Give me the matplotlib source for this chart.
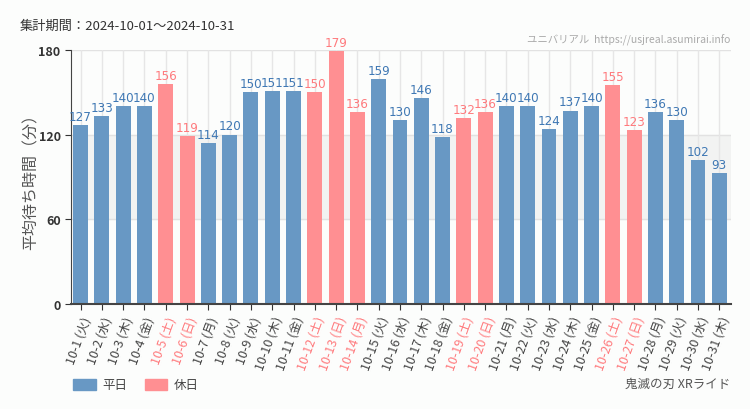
import matplotlib
matplotlib.use('Agg')
import matplotlib.pyplot as plt
from matplotlib.patches import Patch
from matplotlib import font_manager as fm

plt.rcParams['font.family'] = ['Noto Sans CJK JP', 'DejaVu Sans']

### data
days = list(range(1, 32))
weekdays = ['火', '水', '木', '金', '土', '日', '月'] * 5
weekdays = weekdays[:31]
waits = [127, 133, 140, 140, 156, 119, 114, 120, 150, 151, 151, 150, 179, 136, 159,
         130, 146, 118, 132, 136, 140, 140, 124, 137, 140, 155, 123, 136, 130, 102, 93]
holidays = [5, 6, 12, 13, 14, 19, 20, 26, 27]

labels = ['10-%d (%s)' % (d, w) for d, w in zip(days, weekdays)]

blue = '#6898c4'
red = '#ff8f92'
blue_txt = '#3f78b4'
red_txt = '#ff7a7d'
bg = '#fcfdfc'

## look for a narrow, regular weight font for the value labels
def wnum(w):
    names = {'normal': 400, 'regular': 400, 'book': 400, 'medium': 500, 'light': 300,
             'bold': 700, 'semibold': 600, 'demibold': 600, 'thin': 100, 'heavy': 800, 'black': 900}
    try:
        return int(w)
    except (TypeError, ValueError):
        return names.get(str(w).lower(), 400)

stretch_rank = {'ultra-condensed': 0, 'extra-condensed': 1, 'condensed': 2, 'semi-condensed': 3}
cands = []
for f in fm.fontManager.ttflist:
    st = str(f.stretch)
    if ('Narrow' in f.name or 'Condensed' in f.name or st in stretch_rank) and f.style == 'normal':
        cands.append((abs(wnum(f.weight) - 400), stretch_rank.get(st, 2), f.fname))
cands.sort()
if cands:
    valfont = fm.FontProperties(fname=cands[0][2], size=9.5)
else:
    valfont = fm.FontProperties(family='Roboto', size=8.5)

fig = plt.figure(figsize=(7.5, 4.1), dpi=100, facecolor=bg)
ax = fig.add_axes([0.0947, 0.256, 0.88, 0.62])
ax.set_facecolor(bg)

x = list(range(len(days)))
cols = [red if d in holidays else blue for d in days]
tcols = [red_txt if d in holidays else blue_txt for d in days]

ax.axhspan(60, 120, color='#f2f3f2', zorder=0)
for yv in [60, 120, 180]:
    ax.axhline(yv, color='#e2e2e2', lw=1, zorder=0.5)
for xi in x:
    ax.axvline(xi, color='#e6e6e6', lw=1, zorder=0.5)

ax.bar(x, waits, width=0.7, color=cols, zorder=2)
for xi, v, c in zip(x, waits, tcols):
    ax.annotate(str(v), (xi, v), xytext=(0, 1.5), textcoords='offset points',
                ha='center', va='bottom', color=c, fontproperties=valfont, zorder=3)

ax.set_xlim(-0.45, 30.55)
ax.set_ylim(0, 180)
ax.set_yticks([0, 60, 120, 180])
ax.tick_params(axis='y', labelsize=9, colors='#333333', length=4)
ax.tick_params(axis='x', length=4, colors='#333333')
ax.set_xticks(x)
ax.set_xticklabels(labels, rotation=70, ha='right', rotation_mode='anchor', fontsize=9)
for t, c in zip(ax.get_xticklabels(), days):
    t.set_color(red_txt if c in holidays else '#444444')
for lab in ax.get_yticklabels():
    lab.set_fontweight('bold')

for s in ['top', 'right']:
    ax.spines[s].set_visible(False)
ax.spines['left'].set_color('#444444')
ax.spines['bottom'].set_color('#444444')
ax.spines['bottom'].set_linewidth(1.5)

ax.set_ylabel('平均待ち時間（分）', fontsize=11.5, color='#555555', labelpad=-1)

fig.text(20 / 750, 1 - 26 / 410, '集計期間：2024-10-01～2024-10-31', fontsize=9.5,
         color='#333333', va='center')
fig.text(730 / 750, 1 - 40 / 410, 'ユニバリアル  https://usjreal.asumirai.info', fontsize=7.5,
         color='#aaaaaa', va='center', ha='right')
fig.text(730 / 750, 1 - 384 / 410, '鬼滅の刃 XRライド', fontsize=9,
         color='#555555', va='center', ha='right')

handles = [Patch(color=blue, label='平日'), Patch(color=red, label='休日')]
fig.legend(handles=handles, loc='center left', bbox_to_anchor=(62 / 750, 1 - 386 / 410),
           ncol=2, frameon=False, fontsize=9, handlelength=1.8, handleheight=1.0,
           columnspacing=1.4, handletextpad=0.5, labelcolor='#444444')

plt.savefig('out.png', dpi=100, facecolor=bg)
